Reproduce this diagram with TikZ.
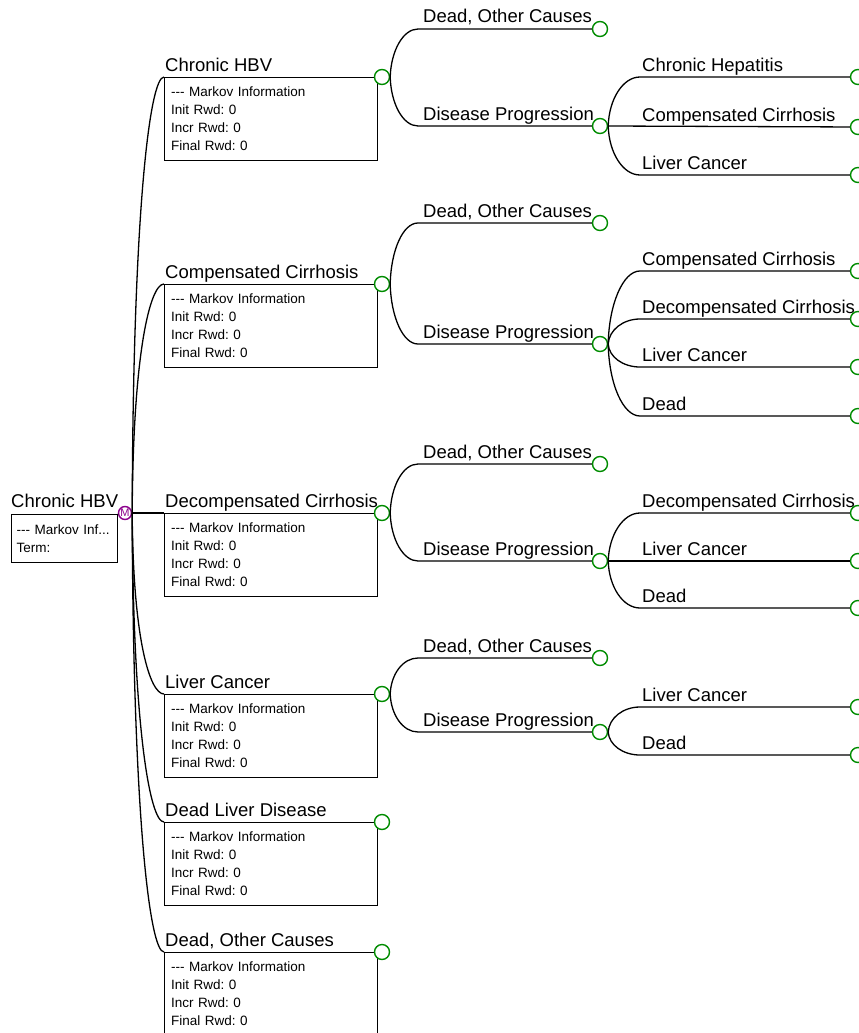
\documentclass[tikz,border=0pt]{standalone}
\usepackage{fontspec}
\setmainfont{Liberation Sans}
\newlength{\du}
\setlength{\du}{1\unitlength}
\definecolor{chancegreen}{RGB}{0,140,0}
\definecolor{markovpurple}{RGB}{140,0,140}
\newcommand{\mkdash}{-\kern0pt-\kern0pt-}
\newcommand{\mkinfo}{\mkdash{} Markov Information\\Init Rwd: 0\\Incr Rwd: 0\\Final Rwd: 0}
\frenchspacing
\begin{document}
\begin{tikzpicture}[
  lbl/.style={anchor=base west, inner sep=0pt, font=\fontsize{18.5}{22}\selectfont},
  mbox/.style={draw, line width=1.3\du, anchor=north west, minimum width=213\du, minimum height=83\du,
    text width=200\du, align=left, inner xsep=6\du, inner ysep=0pt, font=\fontsize{13.5}{18}\selectfont},
  rootbox/.style={draw, line width=1.3\du, anchor=north west, minimum width=106\du, minimum height=48\du,
    text width=96\du, align=left, inner xsep=5\du, inner ysep=0pt, font=\fontsize{13.5}{18}\selectfont},
  chance/.style={circle, draw=chancegreen, fill=white, line width=1.4\du, minimum size=15\du, inner sep=0pt},
  markov/.style={circle, draw=markovpurple, fill=white, line width=1.4\du, minimum size=13\du, inner sep=0pt,
    text=markovpurple, font=\fontsize{11}{11}\selectfont},
  branch/.style={line width=1.3\du}]
\pgftransformxscale{1.000000}
\pgftransformyscale{-1.000000}
\useasboundingbox (0.000000\du,0.000000\du) rectangle (859.000000\du,1033.000000\du);
% root
\node[lbl] (rootlbl) at (11.000000\du,507.000000\du) {Chronic HBV};
\node[rootbox] (root) at (11.000000\du,514.000000\du) {\mkdash{} Markov Inf...\\Term:};
\node[markov] (mk) at (125.000000\du,513.000000\du) {M};
\draw[branch] (root.north east)--(mk);
% Chronic HBV
\node[lbl] (l1) at (165.000000\du,71.500000\du) {Chronic HBV};
\node[mbox] (b1) at (164.000000\du,77.000000\du) {\mkinfo};
\node[chance] (c1) at (382.000000\du,77.000000\du) {};
\draw[branch] (mk.east) .. controls (133.000000\du,208.000000\du) and (150.000000\du,77.000000\du) .. (b1.north west);
% Compensated Cirrhosis
\node[lbl] (l2) at (165.000000\du,278.500000\du) {Compensated Cirrhosis};
\node[mbox] (b2) at (164.000000\du,284.000000\du) {\mkinfo};
\node[chance] (c2) at (382.000000\du,284.000000\du) {};
\draw[branch] (mk.east) .. controls (133.000000\du,353.000000\du) and (150.000000\du,284.000000\du) .. (b2.north west);
% Decompensated Cirrhosis
\node[lbl] (l3) at (165.000000\du,507.500000\du) {Decompensated Cirrhosis};
\node[mbox] (b3) at (164.000000\du,513.000000\du) {\mkinfo};
\node[chance] (c3) at (382.000000\du,513.000000\du) {};
\draw[branch] (mk.east)--(b3.north west);
% Liver Cancer
\node[lbl] (l4) at (165.000000\du,688.500000\du) {Liver Cancer};
\node[mbox] (b4) at (164.000000\du,694.000000\du) {\mkinfo};
\node[chance] (c4) at (382.000000\du,694.000000\du) {};
\draw[branch] (mk.east) .. controls (133.000000\du,640.000000\du) and (150.000000\du,694.000000\du) .. (b4.north west);
% Dead Liver Disease
\node[lbl] (l5) at (165.000000\du,816.500000\du) {Dead Liver Disease};
\node[mbox] (b5) at (164.000000\du,822.000000\du) {\mkinfo};
\node[chance] (c5) at (382.000000\du,822.000000\du) {};
\draw[branch] (mk.east) .. controls (133.000000\du,729.000000\du) and (150.000000\du,822.000000\du) .. (b5.north west);
% Dead, Other Causes
\node[lbl] (l6) at (165.000000\du,946.500000\du) {Dead, Other Causes};
\node[mbox] (b6) at (164.000000\du,952.000000\du) {\mkinfo};
\node[chance] (c6) at (382.000000\du,952.000000\du) {};
\draw[branch] (mk.east) .. controls (133.000000\du,820.000000\du) and (150.000000\du,952.000000\du) .. (b6.north west);
% block 1
\node[lbl] (gl1a) at (423.000000\du,23.000000\du) {Dead, Other Causes};
\coordinate (g1a) at (418.000000\du,29.000000\du);
\node[chance] (t1a) at (600.000000\du,29.000000\du) {};
\draw[branch] (c1.east) .. controls (391.000000\du,51.000000\du) and (403.000000\du,29.000000\du) .. (g1a)--(t1a);
\node[lbl] (gl1b) at (423.000000\du,120.000000\du) {Disease Progression};
\coordinate (g1b) at (418.000000\du,126.000000\du);
\node[chance] (t1b) at (600.000000\du,126.000000\du) {};
\draw[branch] (c1.east) .. controls (391.000000\du,104.000000\du) and (403.000000\du,126.000000\du) .. (g1b)--(t1b);
\node[lbl] (hl1a) at (642.000000\du,71.500000\du) {Chronic Hepatitis};
\coordinate (h1a) at (640.000000\du,77.000000\du);
\node[chance] (e1a) at (858.000000\du,77.000000\du) {};
\draw[branch] (t1b.east) .. controls (609.000000\du,99.000000\du) and (623.000000\du,77.000000\du) .. (h1a)--(e1a);
\node[lbl] (hl1b) at (642.000000\du,121.500000\du) {Compensated Cirrhosis};
\node[chance] (e1b) at (858.000000\du,127.000000\du) {};
\draw[branch] (t1b.east)--(e1b);
\node[lbl] (hl1c) at (642.000000\du,169.500000\du) {Liver Cancer};
\coordinate (h1c) at (640.000000\du,175.000000\du);
\node[chance] (e1c) at (858.000000\du,175.000000\du) {};
\draw[branch] (t1b.east) .. controls (609.000000\du,153.000000\du) and (623.000000\du,175.000000\du) .. (h1c)--(e1c);
% block 2
\node[lbl] (gl2a) at (423.000000\du,217.000000\du) {Dead, Other Causes};
\coordinate (g2a) at (418.000000\du,223.000000\du);
\node[chance] (t2a) at (600.000000\du,223.000000\du) {};
\draw[branch] (c2.east) .. controls (391.000000\du,250.000000\du) and (403.000000\du,223.000000\du) .. (g2a)--(t2a);
\node[lbl] (gl2b) at (423.000000\du,338.000000\du) {Disease Progression};
\coordinate (g2b) at (418.000000\du,344.000000\du);
\node[chance] (t2b) at (600.000000\du,344.000000\du) {};
\draw[branch] (c2.east) .. controls (391.000000\du,317.000000\du) and (403.000000\du,344.000000\du) .. (g2b)--(t2b);
\node[lbl] (hl2a) at (642.000000\du,265.500000\du) {Compensated Cirrhosis};
\coordinate (h2a) at (640.000000\du,271.000000\du);
\node[chance] (e2a) at (858.000000\du,271.000000\du) {};
\draw[branch] (t2b.east) .. controls (609.000000\du,304.000000\du) and (623.000000\du,271.000000\du) .. (h2a)--(e2a);
\node[lbl] (hl2b) at (642.000000\du,313.500000\du) {Decompensated Cirrhosis};
\coordinate (h2b) at (640.000000\du,319.000000\du);
\node[chance] (e2b) at (858.000000\du,319.000000\du) {};
\draw[branch] (t2b.east) .. controls (609.000000\du,330.000000\du) and (623.000000\du,319.000000\du) .. (h2b)--(e2b);
\node[lbl] (hl2c) at (642.000000\du,361.500000\du) {Liver Cancer};
\coordinate (h2c) at (640.000000\du,367.000000\du);
\node[chance] (e2c) at (858.000000\du,367.000000\du) {};
\draw[branch] (t2b.east) .. controls (609.000000\du,357.000000\du) and (623.000000\du,367.000000\du) .. (h2c)--(e2c);
\node[lbl] (hl2d) at (642.000000\du,410.500000\du) {Dead};
\coordinate (h2d) at (640.000000\du,416.000000\du);
\node[chance] (e2d) at (858.000000\du,416.000000\du) {};
\draw[branch] (t2b.east) .. controls (609.000000\du,384.000000\du) and (623.000000\du,416.000000\du) .. (h2d)--(e2d);
% block 3
\node[lbl] (gl3a) at (423.000000\du,458.000000\du) {Dead, Other Causes};
\coordinate (g3a) at (418.000000\du,464.000000\du);
\node[chance] (t3a) at (600.000000\du,464.000000\du) {};
\draw[branch] (c3.east) .. controls (391.000000\du,486.000000\du) and (403.000000\du,464.000000\du) .. (g3a)--(t3a);
\node[lbl] (gl3b) at (423.000000\du,555.000000\du) {Disease Progression};
\coordinate (g3b) at (418.000000\du,561.000000\du);
\node[chance] (t3b) at (600.000000\du,561.000000\du) {};
\draw[branch] (c3.east) .. controls (391.000000\du,539.000000\du) and (403.000000\du,561.000000\du) .. (g3b)--(t3b);
\node[lbl] (hl3a) at (642.000000\du,507.500000\du) {Decompensated Cirrhosis};
\coordinate (h3a) at (640.000000\du,513.000000\du);
\node[chance] (e3a) at (858.000000\du,513.000000\du) {};
\draw[branch] (t3b.east) .. controls (609.000000\du,535.000000\du) and (623.000000\du,513.000000\du) .. (h3a)--(e3a);
\node[lbl] (hl3b) at (642.000000\du,555.500000\du) {Liver Cancer};
\node[chance] (e3b) at (858.000000\du,561.000000\du) {};
\draw[branch] (t3b.east)--(e3b);
\node[lbl] (hl3c) at (642.000000\du,602.500000\du) {Dead};
\coordinate (h3c) at (640.000000\du,608.000000\du);
\node[chance] (e3c) at (858.000000\du,608.000000\du) {};
\draw[branch] (t3b.east) .. controls (609.000000\du,587.000000\du) and (623.000000\du,608.000000\du) .. (h3c)--(e3c);
% block 4
\node[lbl] (gl4a) at (423.000000\du,652.000000\du) {Dead, Other Causes};
\coordinate (g4a) at (418.000000\du,658.000000\du);
\node[chance] (t4a) at (600.000000\du,658.000000\du) {};
\draw[branch] (c4.east) .. controls (391.000000\du,674.000000\du) and (403.000000\du,658.000000\du) .. (g4a)--(t4a);
\node[lbl] (gl4b) at (423.000000\du,726.000000\du) {Disease Progression};
\coordinate (g4b) at (418.000000\du,732.000000\du);
\node[chance] (t4b) at (600.000000\du,732.000000\du) {};
\draw[branch] (c4.east) .. controls (391.000000\du,715.000000\du) and (403.000000\du,732.000000\du) .. (g4b)--(t4b);
\node[lbl] (hl4a) at (642.000000\du,701.500000\du) {Liver Cancer};
\coordinate (h4a) at (640.000000\du,707.000000\du);
\node[chance] (e4a) at (858.000000\du,707.000000\du) {};
\draw[branch] (t4b.east) .. controls (609.000000\du,718.000000\du) and (623.000000\du,707.000000\du) .. (h4a)--(e4a);
\node[lbl] (hl4b) at (642.000000\du,749.500000\du) {Dead};
\coordinate (h4b) at (640.000000\du,755.000000\du);
\node[chance] (e4b) at (858.000000\du,755.000000\du) {};
\draw[branch] (t4b.east) .. controls (609.000000\du,745.000000\du) and (623.000000\du,755.000000\du) .. (h4b)--(e4b);
\end{tikzpicture}
\end{document}
